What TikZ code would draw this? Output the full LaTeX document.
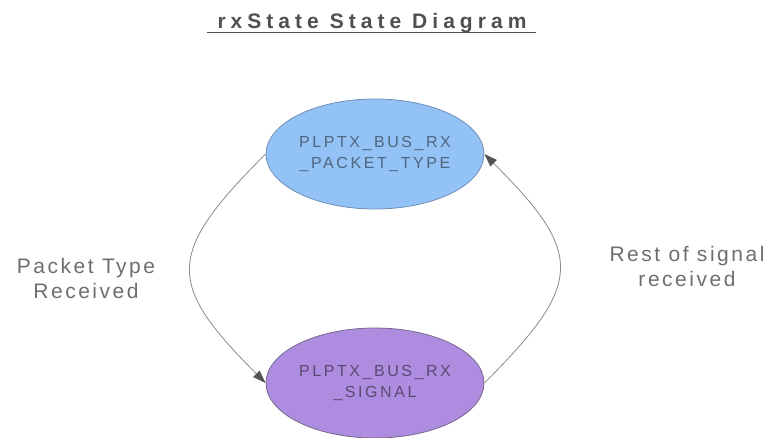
\documentclass[tikz,border=0pt]{standalone}
\usepackage{fontspec}
\setmainfont{Liberation Sans}
\newfontfamily\titlefont[LetterSpace=24,UprightFont={* Bold}]{Liberation Sans}
\newfontfamily\labelfont[LetterSpace=12]{Liberation Sans}
\newfontfamily\statefont[LetterSpace=16]{Liberation Sans}
\usetikzlibrary{shapes.geometric,arrows.meta}
\definecolor{titlegray}{HTML}{505050}
\definecolor{labelgray}{HTML}{6E6E6E}
\definecolor{bluefill}{HTML}{93C2F7}
\definecolor{blueedge}{HTML}{6F8FB5}
\definecolor{bluetext}{HTML}{4F6680}
\definecolor{purplefill}{HTML}{AE8DE0}
\definecolor{purpleedge}{HTML}{76688C}
\definecolor{purpletext}{HTML}{5A4A72}
\definecolor{linegray}{HTML}{8A8A8A}
\definecolor{tipgray}{HTML}{555555}
\tikzset{
  statenode/.style={ellipse, draw, line width=0.8pt, minimum width=218pt, minimum height=110pt,
    inner sep=0pt, align=center, font=\statefont\fontsize{16}{21}\selectfont},
  topstate/.style={statenode, fill=bluefill, draw=blueedge, text=bluetext},
  botstate/.style={statenode, fill=purplefill, draw=purpleedge, text=purpletext},
  conn/.style={draw=linegray, line width=0.8pt, -{Triangle[length=13pt,width=9pt,fill=tipgray,color=tipgray]}},
  lbl/.style={align=center, text=labelgray, inner sep=0pt, font=\labelfont\fontsize{21}{25}\selectfont},
  ttl/.style={text=titlegray, inner sep=0pt, font=\titlefont\fontsize{21}{25}\selectfont}
}
\begin{document}
\begin{tikzpicture}[x=1pt,y=-1pt]
\useasboundingbox (0,0) rectangle (772,438);
\node[ttl, anchor=base] (title) at (372,29) {rxState State Diagram};
\coordinate (ulA) at (207,32.5);
\coordinate (ulB) at (536,32.5);
\draw[titlegray, line width=1.8pt] (ulA) -- (ulB);
\node[topstate] (top) at (375,154) {PLPTX\_BUS\_RX\\\_PACKET\_TYPE};
\node[botstate] (bot) at (375,383) {PLPTX\_BUS\_RX\\\_SIGNAL};
\draw[conn] (top.west) .. controls +(-100,100) and +(-100,-100) .. (bot.west);
\draw[conn] (bot.east) .. controls +(100,-100) and +(100,100) .. (top.east);
\node[lbl] (lblL) at (86,278) {Packet Type\\Received};
\node[lbl] (lblR) at (687,266) {Rest of signal\\received};
\end{tikzpicture}
\end{document}
